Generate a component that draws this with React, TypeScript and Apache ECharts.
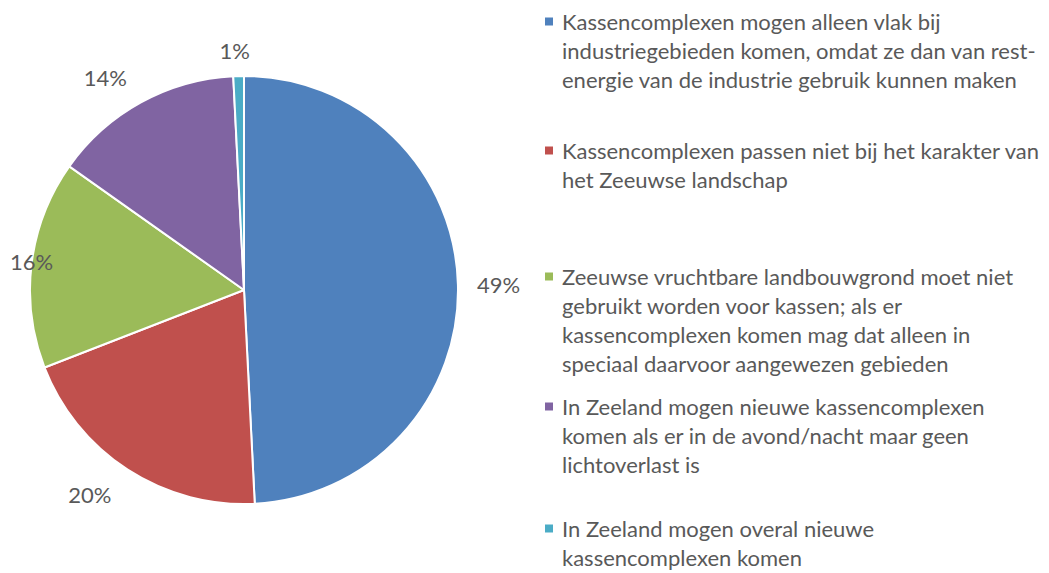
import React, { useEffect, useRef } from "react";
import * as echarts from "echarts";

// ---- data ----
const legendLines: string[][] = [
  [
    "Kassencomplexen mogen alleen vlak bij",
    "industriegebieden komen, omdat ze dan van rest-",
    "energie van de industrie gebruik kunnen maken",
  ],
  ["Kassencomplexen passen niet bij het karakter van", "het Zeeuwse landschap"],
  [
    "Zeeuwse vruchtbare landbouwgrond moet niet",
    "gebruikt worden voor kassen; als er",
    "kassencomplexen komen mag dat alleen in",
    "speciaal daarvoor aangewezen gebieden",
  ],
  [
    "In Zeeland mogen nieuwe kassencomplexen",
    "komen als er in de avond/nacht maar geen",
    "lichtoverlast is",
  ],
  ["In Zeeland mogen overal nieuwe", "kassencomplexen komen"],
];
const categories: string[] = legendLines.map((l) => l.join(" "));
const values: number[] = [49.2, 19.9, 15.7, 14.4, 0.8];

// ---- styles / layout ----
const colors = ["#4F81BD", "#C0504D", "#9BBB59", "#8064A2", "#4BACC6"];
const FONT = "Lato";
const TEXT = "#595959";
const FS = 22;
const LH = 29;
const legendTops = [7, 136, 262, 392, 514];
const labelTweaks = [
  { length: 14, dist: 5 },
  { length: 30, dist: 0 },
  { length: 21, dist: 0, edge: 10 },
  { length: 29, dist: 0 },
  { length: 26, dist: -12 },
];

export default function App() {
  const ref = useRef<HTMLDivElement>(null);
  useEffect(() => {
    if (!ref.current) return;
    const chart = echarts.init(ref.current, undefined, { renderer: "svg" });
    const legends = categories.map((name, i) => {
      const n = legendLines[i].length;
      const H = n * LH;
      const c = LH / 2;
      return {
        orient: "vertical",
        left: 545,
        top: legendTops[i],
        padding: 0,
        itemGap: 0,
        itemWidth: 12,
        itemHeight: H,
        icon: `path://M0,0M12,${H}M0,${c - 4}L8,${c - 4}L8,${c + 4}L0,${c + 4}Z`,
        itemStyle: { borderWidth: 0 },
        selectedMode: false,
        data: [name],
        formatter: (nm: string) => {
          const idx = categories.indexOf(nm);
          return legendLines[idx].join("\n");
        },
        textStyle: {
          fontFamily: FONT,
          fontSize: FS,
          color: TEXT,
          lineHeight: LH,
        },
      };
    });
    chart.setOption({
      animation: false,
      color: colors,
      legend: legends,
      series: [
        {
          type: "pie",
          center: [244, 290],
          radius: 214,
          startAngle: 90,
          clockwise: true,
          avoidLabelOverlap: false,
          itemStyle: { borderColor: "#ffffff", borderWidth: 2 },
          label: {
            show: true,
            position: "outside",
            formatter: (p: any) => Math.round(p.value) + "%",
            fontFamily: FONT,
            fontSize: FS,
            color: TEXT,
          },
          labelLine: { show: false, length2: 0 },
          emphasis: { disabled: true },
          data: categories.map((name, i) => {
            const t = labelTweaks[i];
            return {
              name,
              value: values[i],
              label: t.edge !== undefined
                ? { alignTo: "edge", edgeDistance: t.edge, distanceToLabelLine: t.dist }
                : { distanceToLabelLine: t.dist },
              labelLine: { show: false, length: t.length, length2: 0 },
            };
          }),
        },
      ],
    });
    return () => chart.dispose();
  }, []);
  return (
    <div
      ref={ref}
      style={{ position: "absolute", left: 0, top: 0, width: 1049, height: 573, background: "#fff" }}
    />
  );
}
